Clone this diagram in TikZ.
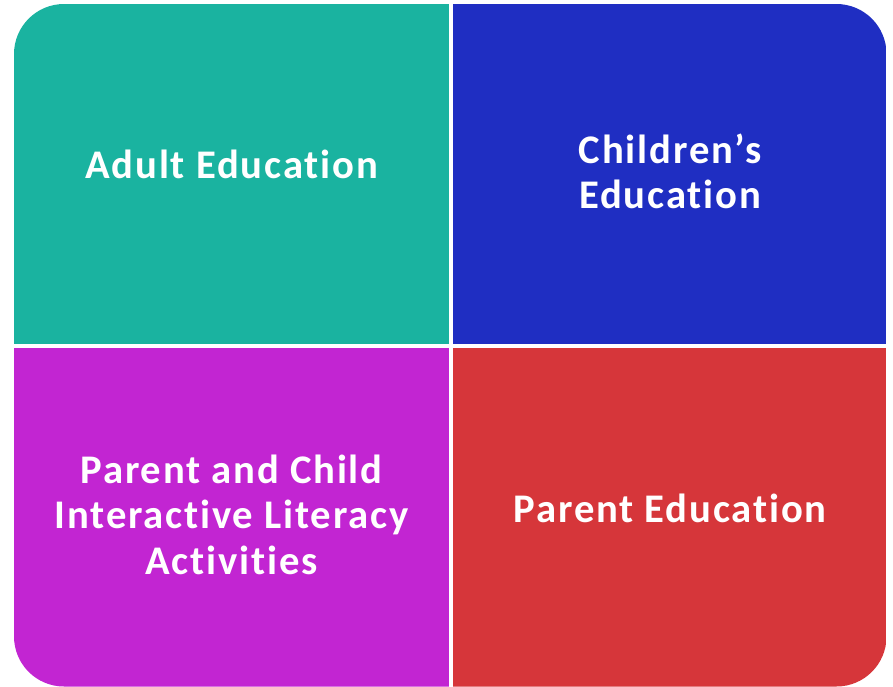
\documentclass[tikz,border=0pt]{standalone}
\usepackage{fontspec}
\setmainfont{Carlito}[Ligatures={NoCommon}, LetterSpace=4.5]
\usepackage{xcolor}
\usetikzlibrary{positioning}

\definecolor{adultteal}{RGB}{26,179,160}
\definecolor{childblue}{RGB}{31,46,194}
\definecolor{pacmagenta}{RGB}{194,37,210}
\definecolor{parentred}{RGB}{214,54,58}

\begin{document}
\begin{tikzpicture}[
    x=0.75pt, y=-0.75pt,
    node distance=2.6pt,
    quad/.style={rectangle, draw=none, minimum width=325.9pt, minimum height=254.6pt, inner sep=0pt},
    quadtext/.style={text=white, align=center, font=\fontsize{30.5}{34}\selectfont\bfseries}
]
    \useasboundingbox (0,0) rectangle (893,686);

    % four quadrants, outer corners rounded by the clip
    \begin{scope}
        \clip[rounded corners=37.5pt] (14,4) rectangle (886.5,686.5);
        \node[quad, fill=adultteal, anchor=north west] (adult) at (14,4) {};
        \node[quad, fill=childblue, right=of adult] (child) {};
        \node[quad, fill=pacmagenta, below=of adult] (pac) {};
        \node[quad, fill=parentred, below=of child] (parent) {};
    \end{scope}

    % labels
    \node[quadtext] (adulttxt) at ([yshift=7.5pt]adult.center) {Adult Education};
    \node[quadtext] (childtxt) at ([yshift=2pt]child.center) {Children’s\\Education};
    \node[quadtext] (pactxt) at ([yshift=2pt]pac.center) {Parent and Child\\Interactive Literacy\\Activities};
    \node[quadtext] (parenttxt) at ([yshift=6.5pt]parent.center) {Parent Education};

\end{tikzpicture}
\end{document}
